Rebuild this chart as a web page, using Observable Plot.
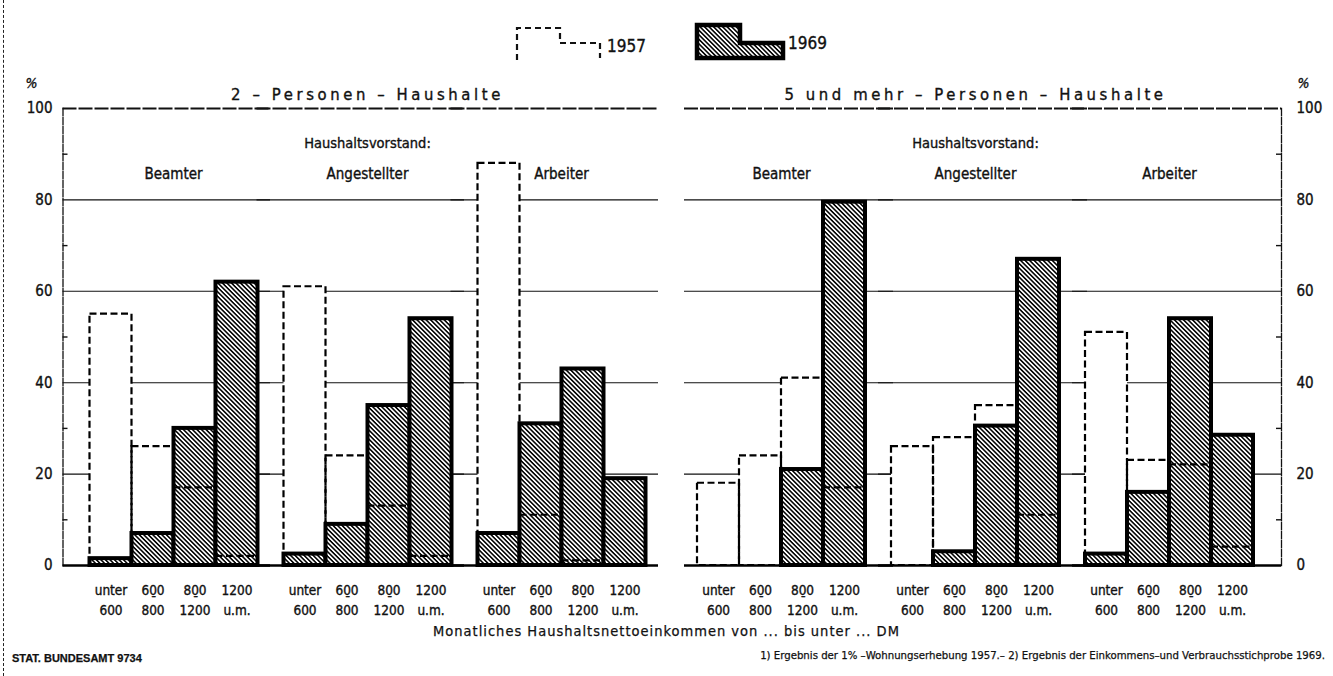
<!DOCTYPE html>
<html>
<head>
<meta charset="utf-8">
<script src="https://cdn.jsdelivr.net/npm/d3@7"></script>
<script src="https://cdn.jsdelivr.net/npm/@observablehq/plot@0.6"></script>
<style>
  html, body { margin: 0; padding: 0; background: #fff; }
  #page { position: relative; width: 1333px; height: 676px; overflow: hidden; background: #fff;
    font-family: "Liberation Sans Narrow", "DejaVu Sans Condensed", sans-serif; color: #111; }
  #border { position: absolute; left: 3px; top: 0; height: 676px; border-left: 1.5px dashed #222; }
  #legend { position: absolute; left: 0; top: 0; }
  #panels { position: absolute; left: 0; top: 60px; display: flex; }
  .foot { position: absolute; white-space: nowrap; color: #111; -webkit-text-stroke: 0.25px #111; }
  #page svg text { stroke: #111; stroke-width: 0.35px; }
  g[aria-description="paneltitle"] text { letter-spacing: 3.6px; }
</style>
</head>
<body>
<svg width="0" height="0" style="position:absolute">
  <defs>
    <pattern id="hatch" patternUnits="userSpaceOnUse" width="3.2" height="3.2" patternTransform="rotate(45)">
      <rect width="3.2" height="3.2" fill="#fff"></rect>
      <rect width="3.2" height="1.55" fill="#000"></rect>
    </pattern>
  </defs>
</svg>
<div id="page">
  <div id="border"></div>
  <svg id="legend" width="1333" height="64">
    <path d="M517,60 V28 H560 V43 H600 V58" fill="none" stroke="#111" stroke-width="2.2" stroke-dasharray="6,4"></path>
    <text x="607" y="52" font-size="17" fill="#111">1957</text>
    <path d="M697,58 V25 H740 V43 H783 V58 Z" fill="url(#hatch)" stroke="#000" stroke-width="4.5"></path>
    <text x="788" y="49" font-size="17" fill="#111">1969</text>
  </svg>
  <div id="panels"></div>
  <div class="foot" style="left:0; width:1333px; text-align:center; top:623px; font-size:14.5px; letter-spacing:1px;">Monatliches Haushaltsnettoeinkommen von ... bis unter ... DM</div>
  <div class="foot" style="left:12px; top:652px; font-size:11px; font-weight:bold; font-family:'Liberation Sans','DejaVu Sans',sans-serif;">STAT. BUNDESAMT 9734</div>
  <div class="foot" style="right:8px; top:649px; font-size:11.3px;">1) Ergebnis der 1% –Wohnungserhebung 1957.– 2) Ergebnis der Einkommens–und Verbrauchsstichprobe 1969.</div>
</div>
<script>
// ---- data ----
const groups = ["Beamter", "Angestellter", "Arbeiter"];
const incomes = ["unter 600", "600–800", "800–1200", "1200 u.m."];
const incomeLabels = ["unter\n600", "60\u03310\n800", "80\u03310\n1200", "1200\nu.m."];
const panelTitles = ["2 – Personen – Haushalte", "5 und mehr – Personen – Haushalte"];
const headLabel = "Haushaltsvorstand:";
const yTicks = [0, 20, 40, 60, 80, 100];
const yMinor = [10, 30, 50, 70, 90];
const gridValues = [20, 40, 60, 80];

// values in %, order: Beamter(4), Angestellter(4), Arbeiter(4)
const p2_1957 = [55, 26, 17, 2,   61, 24, 13, 2,   88, 11, 1, 0];
const p2_1969 = [1.5, 7, 30, 62,  2.5, 9, 35, 54,  7, 31, 43, 19];
const p5_1957 = [18, 24, 41, 17,  26, 28, 35, 11,  51, 23, 22, 4];
const p5_1969 = [0, 0, 21, 79.5,  0, 3, 30.5, 67,  2.5, 16, 54, 28.5];

const FONT = '"Liberation Sans Narrow", "DejaVu Sans Condensed", sans-serif';

function rowsOf(values) {
  const rows = [];
  groups.forEach((g, gi) => incomes.forEach((inc, ii) => {
    rows.push({group: g, income: inc, value: values[gi * incomes.length + ii]});
  }));
  return rows;
}

function panel({title, v57, v69, side, width, marginLeft, marginRight, ext}) {
  const r57 = rowsOf(v57).filter(d => d.value > 0);
  const r69 = rowsOf(v69).filter(d => d.value > 0);
  const left = side === "left";
  const gridInset = left ? {insetLeft: ext} : {insetRight: ext};
  const facetW = (width - marginLeft - marginRight) / groups.length;
  const tickLen = 5;
  const edgeGroup = left ? groups[0] : groups[groups.length - 1];
  // minor ticks: short rules just inside the axis line
  const minorInset = left
    ? {insetLeft: ext, insetRight: facetW - ext - tickLen}
    : {insetRight: ext, insetLeft: facetW - ext - tickLen};
  return Plot.plot({
    width, height: 555,
    marginTop: 48, marginBottom: 50, marginLeft, marginRight,
    style: {fontFamily: FONT, fontSize: "14px", background: "none", color: "#111", overflow: "visible"},
    fx: {domain: groups, paddingInner: 0, paddingOuter: 0, axis: null, label: null},
    x: {domain: incomes, padding: 0, insetLeft: 12.5, insetRight: 12.5, label: null},
    y: {domain: [0, 100], label: null},
    marks: [
      Plot.ruleY(gridValues, {stroke: "#111", strokeWidth: 1.1, ...gridInset}),
      Plot.ruleY([100], {stroke: "#111", strokeWidth: 1.8, strokeDasharray: "14,2", ...gridInset}),
      Plot.frame({anchor: side, facetAnchor: side, stroke: "#111", strokeWidth: 1.3, strokeDasharray: "7,2", ...gridInset}),
      Plot.ruleY(yMinor, {fx: () => edgeGroup, y: d => d, stroke: "#111", strokeWidth: 1.4, ...minorInset}),
      // 1957 white interior (hides grid)
      Plot.barY(r57, {fx: "group", x: "income", y: "value", fill: "#fff"}),
      // 1969 hatched bars
      Plot.barY(r69, {fx: "group", x: "income", y: "value", fill: "url(#hatch)", stroke: "#000", strokeWidth: 4}),
      // 1957 dashed outlines
      Plot.barY(r57, {fx: "group", x: "income", y: "value", fill: "none", stroke: "#000", strokeWidth: 2.2, strokeDasharray: "7,3.5"}),
      Plot.ruleY([0], {stroke: "#000", strokeWidth: 2.6, ...gridInset}),
      // axes
      Plot.axisY({anchor: side, ticks: yTicks, tickSize: 0, tickPadding: left ? 24 : 30, fontSize: 15, label: null}),
      Plot.axisX({tickSize: 0, tickPadding: 15, fontSize: 13.5, lineHeight: 1.5, label: null,
        tickFormat: d => incomeLabels[incomes.indexOf(d)]}),
      // texts
      Plot.text(groups, {fx: d => d, text: d => d, frameAnchor: "top", dy: 60, fontSize: 15}),
      Plot.text([headLabel], {fx: () => groups[1], frameAnchor: "top", dy: 29, fontSize: 14.5}),
      Plot.text([title], {fx: () => groups[1], frameAnchor: "top", dy: -20, fontSize: 16.5, ariaDescription: "paneltitle"}),
      Plot.text(["%"], {fx: () => edgeGroup, frameAnchor: left ? "top-left" : "top-right",
        textAnchor: "middle", dx: left ? -45 : 37, dy: -30, fontSize: 14, fontStyle: "italic"})
    ]
  });
}

const host = document.getElementById("panels");
host.append(panel({title: panelTitles[0], v57: p2_1957, v69: p2_1969, side: "left",
  width: 668, marginLeft: 75.5, marginRight: 10.5, ext: -13.5}));
host.append(panel({title: panelTitles[1], v57: p5_1957, v69: p5_1969, side: "right",
  width: 665, marginLeft: 16, marginRight: 67, ext: -15}));
</script>
</body>
</html>
